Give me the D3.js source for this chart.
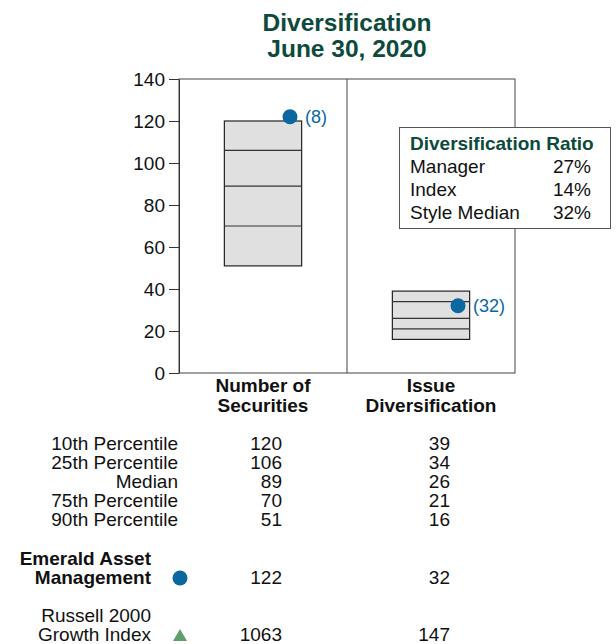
<!DOCTYPE html>
<html>
<head>
<meta charset="utf-8">
<script src="https://cdn.jsdelivr.net/npm/d3@7"></script>
<style>
  body { margin: 0; background: #fff; }
  svg { display: block; font-family: "Liberation Sans", Arial, sans-serif; }
</style>
</head>
<body>
<svg id="chart" width="616" height="644"></svg>
<script>
// chart values
var categories = ["Number of Securities", "Issue Diversification"];
var categoryLines = [["Number of", "Securities"], ["Issue", "Diversification"]];
var pct10 = [120, 39];
var pct25 = [106, 34];
var median = [89, 26];
var pct75 = [70, 21];
var pct90 = [51, 16];
var managerValues = [122, 32];
var managerRanks = [8, 32];
var indexValues = [1063, 147];
var yTicks = [0, 20, 40, 60, 80, 100, 120, 140];
var rowLabels = ["10th Percentile", "25th Percentile", "Median", "75th Percentile", "90th Percentile"];
var ratioLabels = ["Manager", "Index", "Style Median"];
var ratioValues = ["27%", "14%", "32%"];

var green = "#0d4a3b", blue = "#0b67a0", triGreen = "#5f9f6c";
var fs = "19px";
var plot = {left: 179, right: 515, top: 79, bottom: 373};

var svg = d3.select("#chart");

var x = d3.scaleBand().domain(categories).range([plot.left, plot.right]).padding(0);
var y = d3.scaleLinear().domain([0, 140]).range([plot.bottom, plot.top]);
var boxW = x.bandwidth() * 0.46;

//Title
svg.append("text").attr("x", 347).attr("y", 31)
  .attr("text-anchor", "middle").style("font-size", "24.5px").style("font-weight", "bold")
  .style("fill", green).text("Diversification");
svg.append("text").attr("x", 347).attr("y", 57)
  .attr("text-anchor", "middle").style("font-size", "24.5px").style("font-weight", "bold")
  .style("fill", green).text("June 30, 2020");

//Frame and divider
svg.append("rect")
  .attr("x", plot.left).attr("y", plot.top)
  .attr("width", plot.right - plot.left).attr("height", plot.bottom - plot.top)
  .style("fill", "none").style("stroke", "#444").style("stroke-width", 1);
svg.append("line")
  .attr("x1", x(categories[1])).attr("x2", x(categories[1]))
  .attr("y1", plot.top).attr("y2", plot.bottom)
  .style("stroke", "#444");

//Y axis
var yAxis = svg.append("g")
  .attr("transform", "translate(" + plot.left + ",0)")
  .call(d3.axisLeft(y).tickValues(yTicks).tickSize(10).tickSizeOuter(0).tickPadding(4));
yAxis.selectAll("text").style("font-size", fs).style("fill", "#111").attr("dy", "0.36em")
  .style("font-family", "Liberation Sans, Arial, sans-serif");
yAxis.selectAll("line, path").style("stroke", "#333");

//Floating bars
var boxes = svg.selectAll(".box").data(categories).enter().append("g").attr("class", "box");
boxes.append("rect")
  .attr("x", function(d){ return x(d) + (x.bandwidth() - boxW) / 2; })
  .attr("y", function(d, i){ return y(pct10[i]); })
  .attr("width", boxW)
  .attr("height", function(d, i){ return y(pct90[i]) - y(pct10[i]); })
  .style("fill", "#e0e0e0").style("stroke", "#222").style("stroke-width", 1.2);
[pct25, median, pct75].forEach(function(arr){
  boxes.append("line")
    .attr("x1", function(d){ return x(d) + (x.bandwidth() - boxW) / 2; })
    .attr("x2", function(d){ return x(d) + (x.bandwidth() + boxW) / 2; })
    .attr("y1", function(d, i){ return y(arr[i]); })
    .attr("y2", function(d, i){ return y(arr[i]); })
    .style("stroke", "#333").style("stroke-width", 1.2);
});

//Manager dots and ranks
boxes.append("circle")
  .attr("cx", function(d){ return x(d) + x.bandwidth() / 2 + 27; })
  .attr("cy", function(d, i){ return y(managerValues[i]); })
  .attr("r", 7.5).style("fill", blue);
boxes.append("text")
  .attr("x", function(d){ return x(d) + x.bandwidth() / 2 + 42; })
  .attr("y", function(d, i){ return y(managerValues[i]); })
  .attr("dy", "0.36em")
  .style("font-size", "18px").style("fill", blue)
  .text(function(d, i){ return "(" + managerRanks[i] + ")"; });

//Category labels
categories.forEach(function(c, i){
  categoryLines[i].forEach(function(line, j){
    svg.append("text")
      .attr("x", x(c) + x.bandwidth() / 2).attr("y", 392 + j * 19.5)
      .attr("text-anchor", "middle").style("font-size", fs).style("font-weight", "bold")
      .style("fill", "#111").text(line);
  });
});

//Diversification ratio box
var lg = svg.append("g");
lg.append("rect").attr("x", 399.5).attr("y", 127.5).attr("width", 211).attr("height", 101)
  .style("fill", "#fff").style("stroke", "#555");
lg.append("text").attr("x", 410).attr("y", 150).style("font-size", fs).style("font-weight", "bold")
  .style("fill", green).text("Diversification Ratio");
ratioLabels.forEach(function(l, i){
  lg.append("text").attr("x", 410).attr("y", 173 + i * 23).style("font-size", fs)
    .style("fill", "#111").text(l);
  lg.append("text").attr("x", 591).attr("y", 173 + i * 23).attr("text-anchor", "end")
    .style("font-size", fs).style("fill", "#111").text(ratioValues[i]);
});

//Table below
var valX = categories.map(function(c){ return x(c) + x.bandwidth() / 2 + 19; });
var pctArrays = [pct10, pct25, median, pct75, pct90];
rowLabels.forEach(function(l, r){
  var yy = 450 + r * 19;
  svg.append("text").attr("x", 178).attr("y", yy).attr("text-anchor", "end")
    .style("font-size", fs).style("fill", "#111").text(l);
  valX.forEach(function(vx, i){
    svg.append("text").attr("x", vx).attr("y", yy).attr("text-anchor", "end")
      .style("font-size", fs).style("fill", "#111").text(pctArrays[r][i]);
  });
});

//Manager row
svg.append("text").attr("x", 151).attr("y", 565).attr("text-anchor", "end")
  .style("font-size", fs).style("font-weight", "bold").style("fill", "#111").text("Emerald Asset");
svg.append("text").attr("x", 151).attr("y", 584).attr("text-anchor", "end")
  .style("font-size", fs).style("font-weight", "bold").style("fill", "#111").text("Management");
svg.append("circle").attr("cx", 180).attr("cy", 578).attr("r", 7.5).style("fill", blue);
valX.forEach(function(vx, i){
  svg.append("text").attr("x", vx).attr("y", 584).attr("text-anchor", "end")
    .style("font-size", fs).style("fill", "#111").text(managerValues[i]);
});

//Index row
svg.append("text").attr("x", 151).attr("y", 622).attr("text-anchor", "end")
  .style("font-size", fs).style("fill", "#111").text("Russell 2000");
svg.append("text").attr("x", 151).attr("y", 641).attr("text-anchor", "end")
  .style("font-size", fs).style("fill", "#111").text("Growth Index");
svg.append("path")
  .attr("transform", "translate(180,637)")
  .attr("d", d3.symbol().type(d3.symbolTriangle).size(85))
  .style("fill", triGreen);
valX.forEach(function(vx, i){
  svg.append("text").attr("x", vx).attr("y", 641).attr("text-anchor", "end")
    .style("font-size", fs).style("fill", "#111").text(indexValues[i]);
});
</script>
</body>
</html>
